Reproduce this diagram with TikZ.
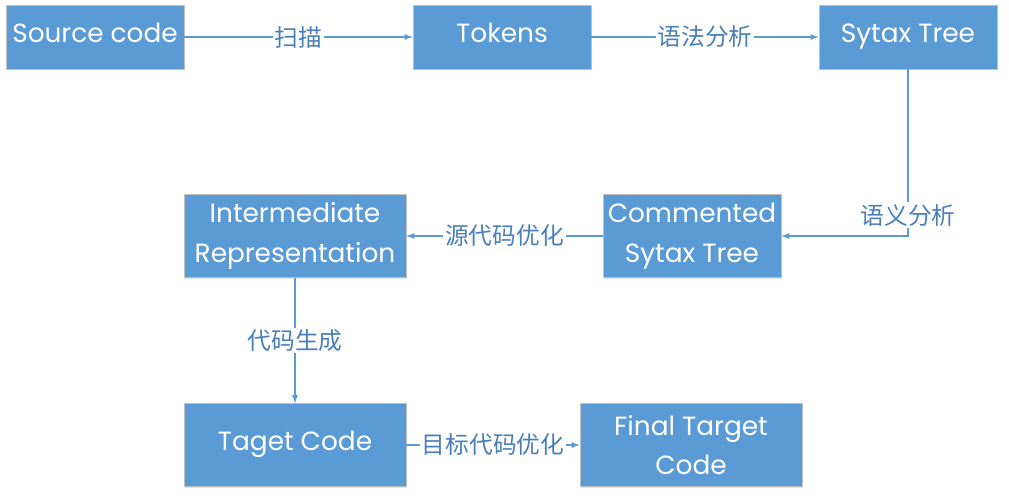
\documentclass[tikz,border=0pt]{standalone}
\usepackage{fontspec}
\setmainfont{Poppins}
\newfontfamily\cjk{Noto Sans CJK SC}
\usepackage{xcolor}
\usepackage{tikz}
\usetikzlibrary{arrows,shapes}
\usetikzlibrary{shadows}

\definecolor{boxblue}{HTML}{5B9BD5}
\definecolor{boxline}{HTML}{BFBFBF}
\definecolor{labblue}{HTML}{4A7EBB}

\begin{document}
\begin{tikzpicture}[x=0.02cm,y=-0.02cm,
    stage/.style={draw=boxline,fill=boxblue,text=white,align=center,
        font=\fontsize{15}{22.5}\selectfont,inner sep=0pt,
        drop shadow={shadow xshift=0.3pt,shadow yshift=-0.6pt,opacity=0.25}},
    oneline/.style={text height=1.55ex,text depth=0.45ex},
    flow/.style={draw=boxblue,-latex,line width=0.6pt},
    tag/.style={fill=white,text=labblue,inner sep=1pt,font=\cjk\fontsize{13.5}{15}\selectfont}]
\useasboundingbox (0,0) rectangle (1009,495);

\node[stage,oneline,minimum width=3.56cm,minimum height=1.28cm] at (95,37) (src) {Source code};
\node[stage,oneline,minimum width=3.56cm,minimum height=1.28cm] at (502,37) (tok) {Tokens};
\node[stage,oneline,minimum width=3.56cm,minimum height=1.28cm] at (908,37) (syn) {Sytax Tree};
\node[stage,minimum width=3.56cm,minimum height=1.66cm] at (692,236) (com) {Commented\\Sytax Tree};
\node[stage,minimum width=4.44cm,minimum height=1.66cm] at (295,236) (ir) {Intermediate\\Representation};
\node[stage,oneline,minimum width=4.44cm,minimum height=1.66cm] at (295,445) (tgt) {Taget Code};
\node[stage,minimum width=4.44cm,minimum height=1.66cm] at (691,445) (fin) {Final Target\\Code};

\draw[flow] (src) -- (tok) node[midway,tag] {扫描};
\draw[flow] (tok) -- (syn) node[midway,tag] {语法分析};
\draw[flow] (syn.south) |- (com.east) node[pos=0.437,tag] {语义分析};
\draw[flow] (com) -- (ir) node[midway,tag] {源代码优化};
\draw[flow] (ir) -- (tgt) node[midway,tag] {代码生成};
\draw[flow] (tgt) -- (fin) node[midway,tag] {目标代码优化};
\end{tikzpicture}
\end{document}
